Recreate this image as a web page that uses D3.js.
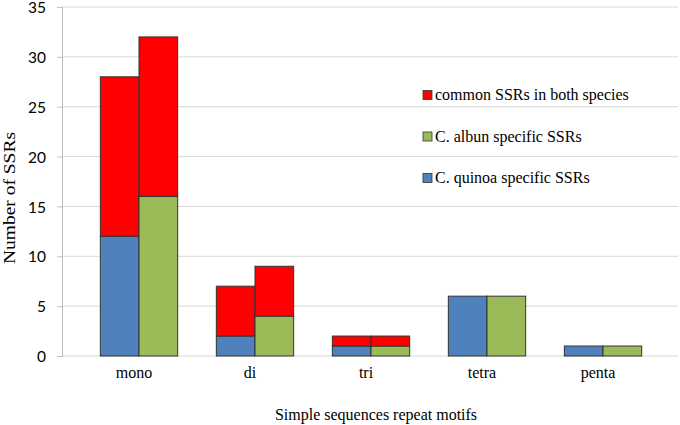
<!DOCTYPE html>
<html>
<head>
<meta charset="utf-8">
<script src="https://cdn.jsdelivr.net/npm/d3@7"></script>
<style>
  body { margin: 0; background: #fff; }
  .serif { font-family: "Liberation Serif", "Times New Roman", "DejaVu Serif", serif; }
</style>
</head>
<body>
<div id="chart"></div>
<script>
// data
const motifs = ['mono', 'di', 'tri', 'tetra', 'penta']
const quinoaSpecific = [12, 2, 1, 6, 1]
const albunSpecific = [16, 4, 1, 6, 1]
const commonQuinoa = [16, 5, 1, 0, 0]
const commonAlbun = [16, 5, 1, 0, 0]
const yTicks = [0, 5, 10, 15, 20, 25, 30, 35]
const legendItems = [
  { label: 'common SSRs in both species', color: '#ff0000' },
  { label: 'C. albun specific SSRs', color: '#9bbb59' },
  { label: 'C. quinoa specific SSRs', color: '#4f81bd' }
]

const W = 680, H = 425
const svg = d3.select('#chart').append('svg')
  .attr('width', W).attr('height', H)

const y = d3.scaleLinear().domain([0, 35]).range([356, 7])
const x = d3.scaleBand().domain(motifs).range([81, 661]).paddingInner(0).paddingOuter(0)
const inner = d3.scaleBand().domain(['q', 'a']).range([0, x.bandwidth()]).paddingOuter(0.5).paddingInner(0)

// gridlines
svg.append('g')
  .selectAll('line')
  .data(yTicks)
  .enter().append('line')
  .attr('x1', 62).attr('x2', 678)
  .attr('y1', d => y(d)).attr('y2', d => y(d))
  .attr('stroke', '#d9d9d9').attr('stroke-width', 1)

// y axis
const yAxis = svg.append('g')
  .attr('transform', 'translate(62,0)')
  .call(d3.axisLeft(y).tickValues(yTicks).tickSize(5).tickPadding(11))
yAxis.select('.domain').attr('stroke', '#bfbfbf')
yAxis.selectAll('.tick line').attr('stroke', '#bfbfbf')
yAxis.selectAll('text')
  .attr('font-family', 'Lato, "Open Sans", sans-serif')
  .attr('font-size', 15.5)
  .attr('dy', '0.36em')
  .attr('fill', '#000')

// bars: each pair is specific part at bottom, common part on top
const rows = motifs.map((m, i) => ({
  motif: m,
  stacks: [
    { key: 'q', parts: [{ v0: 0, v1: quinoaSpecific[i], c: '#4f81bd' },
                        { v0: quinoaSpecific[i], v1: quinoaSpecific[i] + commonQuinoa[i], c: '#ff0000' }] },
    { key: 'a', parts: [{ v0: 0, v1: albunSpecific[i], c: '#9bbb59' },
                        { v0: albunSpecific[i], v1: albunSpecific[i] + commonAlbun[i], c: '#ff0000' }] }
  ]
}))

const groups = svg.selectAll('.grp')
  .data(rows)
  .enter().append('g')
  .attr('class', 'grp')
  .attr('transform', d => `translate(${x(d.motif)},0)`)

groups.selectAll('.stk')
  .data(d => d.stacks)
  .enter().append('g')
  .attr('class', 'stk')
  .attr('transform', d => `translate(${inner(d.key)},0)`)
  .selectAll('rect')
  .data(d => d.parts.filter(p => p.v1 > p.v0))
  .enter().append('rect')
  .attr('x', 0)
  .attr('width', inner.bandwidth())
  .attr('y', d => y(d.v1))
  .attr('height', d => y(d.v0) - y(d.v1))
  .attr('fill', d => d.c)
  .attr('stroke', '#333')
  .attr('stroke-width', 1)

// x labels (sit a little left of the bar pairs, like the original)
svg.append('g')
  .selectAll('text')
  .data(motifs)
  .enter().append('text')
  .attr('class', 'serif')
  .attr('x', d => x(d) + x.bandwidth() / 2 - 5)
  .attr('y', 378)
  .attr('text-anchor', 'middle')
  .attr('font-size', 16)
  .text(d => d)

// axis titles
svg.append('text')
  .attr('class', 'serif')
  .attr('x', 376).attr('y', 420)
  .attr('text-anchor', 'middle')
  .attr('font-size', 16)
  .text('Simple sequences repeat motifs')

svg.append('text')
  .attr('class', 'serif')
  .attr('transform', 'rotate(-90)')
  .attr('x', -198).attr('y', 15)
  .attr('text-anchor', 'middle')
  .attr('font-size', 17)
  .attr('textLength', 132)
  .attr('lengthAdjust', 'spacingAndGlyphs')
  .text('Number of SSRs')

// legend
const legend = svg.append('g')
  .selectAll('g')
  .data(legendItems)
  .enter().append('g')
  .attr('transform', (d, i) => `translate(423,${95 + i * 41.5})`)
legend.append('rect')
  .attr('x', 0).attr('y', -4.5)
  .attr('width', 9).attr('height', 9)
  .attr('fill', d => d.color)
  .attr('stroke', '#333').attr('stroke-width', 0.8)
legend.append('text')
  .attr('class', 'serif')
  .attr('x', 12).attr('y', 5)
  .attr('font-size', 16)
  .text(d => d.label)
</script>
</body>
</html>
